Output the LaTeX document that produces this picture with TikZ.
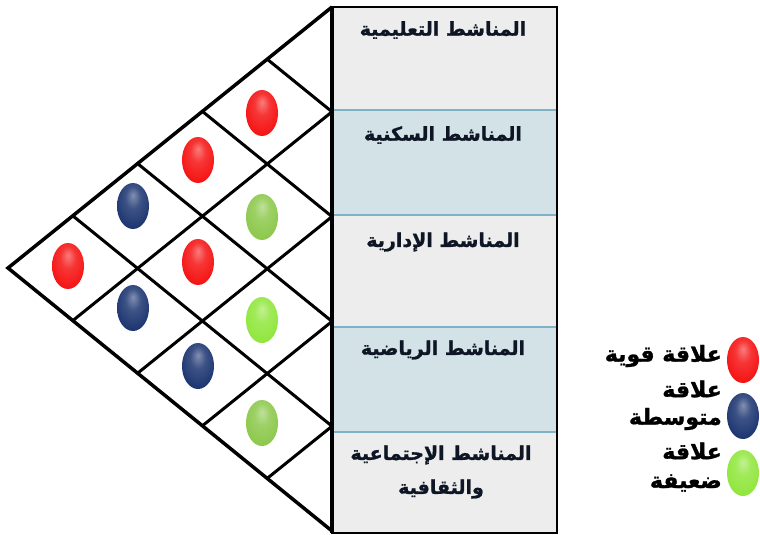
\documentclass[tikz,border=0pt]{standalone}
\usepackage{fontspec}
\usetikzlibrary{shapes.geometric}
\TeXXeTstate=1
\newfontfamily\arabicfont[Script=Arabic, BoldFeatures={FakeBold=1.2}]{DejaVu Sans}
\definecolor{rowgray}{HTML}{EDEDED}
\definecolor{rowblue}{HTML}{D3E2E7}
\definecolor{sepblue}{HTML}{7FB2C6}
\definecolor{labelink}{HTML}{0E1626}
\definecolor{myred}{HTML}{F51212}
\definecolor{myblue}{HTML}{1B3470}
\definecolor{mygreen}{HTML}{90E63C}
\definecolor{mygreenb}{HTML}{8CC84B}
\colorlet{ballbase}{red}
\pgfdeclareradialshading[ballbase]{glossy}{\pgfpoint{0bp}{12bp}}{%
  color(0bp)=(ballbase!55!white);
  color(12bp)=(ballbase!85!white);
  color(30bp)=(ballbase);
  color(44bp)=(ballbase!88!black);
  color(50bp)=(ballbase!70!black)}
\tikzset{
  ball/.style={ellipse, minimum width=32pt, minimum height=46pt, inner sep=0pt},
  redball/.style={ball, /utils/exec={\colorlet{ballbase}{myred}}, shading=glossy},
  blueball/.style={ball, /utils/exec={\colorlet{ballbase}{myblue}}, shading=glossy},
  greenball/.style={ball, /utils/exec={\colorlet{ballbase}{mygreen}}, shading=glossy},
  greenballb/.style={ball, /utils/exec={\colorlet{ballbase}{mygreenb}}, shading=glossy},
  gridline/.style={line width=3pt, black},
  rowlabel/.style={font=\arabicfont\bfseries\fontsize{19}{34}\selectfont, text=labelink, align=center, inner sep=0pt},
  legendlabel/.style={font=\arabicfont\bfseries\fontsize{22}{26}\selectfont, text=black, anchor=east, inner sep=0pt},
  sepline/.style={sepblue, line width=1.5pt}
}
\begin{document}
\begin{tikzpicture}[x=1pt,y=-1pt]
\useasboundingbox (0,0) rectangle (760,535);
\fill[white] (0,0) rectangle (760,535);
% right table
\fill[rowgray] (332,7) rectangle (557,110);
\fill[rowblue] (332,110) rectangle (557,215);
\fill[rowgray] (332,215) rectangle (557,327);
\fill[rowblue] (332,327) rectangle (557,432);
\fill[rowgray] (332,432) rectangle (557,533);
\coordinate (S1l) at (332,110); \coordinate (S1r) at (557,110);
\coordinate (S2l) at (332,215); \coordinate (S2r) at (557,215);
\coordinate (S3l) at (332,327); \coordinate (S3r) at (557,327);
\coordinate (S4l) at (332,432); \coordinate (S4r) at (557,432);
\draw[sepline] (S1l) -- (S1r);
\draw[sepline] (S2l) -- (S2r);
\draw[sepline] (S3l) -- (S3r);
\draw[sepline] (S4l) -- (S4r);
\coordinate (BoxTL) at (332,7);
\coordinate (BoxBR) at (557,533);
\coordinate (BoxBL) at (332,533);
\draw[line width=2.2pt] (BoxTL) rectangle (BoxBR);
% grid points
\coordinate (A) at (8,268);
\foreach \k in {0,...,5} {
  \coordinate (U\k) at ({8+64.8*\k},{268-52.2*\k});
  \coordinate (L\k) at ({8+64.8*\k},{268+52.6*\k});
  \coordinate (R\k) at (332,{7+104.8*\k});
}
% grid lines
\foreach \k in {1,...,4} {
  \pgfmathtruncatemacro{\m}{5-\k}
  \draw[gridline] (U\k) -- (R\m);
  \draw[gridline] (L\k) -- (R\k);
}
\draw[line width=3.5pt, line join=miter] (R0) -- (A) -- (R5);
\draw[line width=3.5pt] (BoxTL) -- (BoxBL);
% balls
\node[redball]    (c30) at (262,113) {};
\node[redball]    (c20) at (198,160) {};
\node[blueball]   (c10) at (133,206) {};
\node[redball]    (c00) at (68,266) {};
\node[greenballb] (c21) at (262,217) {};
\node[redball]    (c11) at (198,262) {};
\node[blueball]   (c01) at (133,308) {};
\node[greenball]  (c12) at (262,320) {};
\node[blueball]   (c02) at (198,366) {};
\node[greenballb] (c03) at (262,423) {};
% row labels
\node[rowlabel] (t1) at (443,30) {\beginR المناشط التعليمية\endR};
\node[rowlabel] (t2) at (443,135) {\beginR المناشط السكنية\endR};
\node[rowlabel] (t3) at (443,242) {\beginR المناشط الإدارية\endR};
\node[rowlabel] (t4) at (443,350) {\beginR المناشط الرياضية\endR};
\node[rowlabel] (t5) at (441,472) {\beginR المناشط الإجتماعية\endR\\\beginR والثقافية\endR};
% legend
\node[redball]   (lr) at (743,360) {};
\node[blueball]  (lb) at (743,416) {};
\node[greenball] (lg) at (743,473) {};
\node[legendlabel] (l1) at (722,356) {\beginR علاقة قوية\endR};
\node[legendlabel] (l2) at (722,389) {\beginR علاقة\endR};
\node[legendlabel] (l3) at (722,419) {\beginR متوسطة\endR};
\node[legendlabel] (l4) at (722,451) {\beginR علاقة\endR};
\node[legendlabel] (l5) at (722,483) {\beginR ضعيفة\endR};
\end{tikzpicture}
\end{document}
